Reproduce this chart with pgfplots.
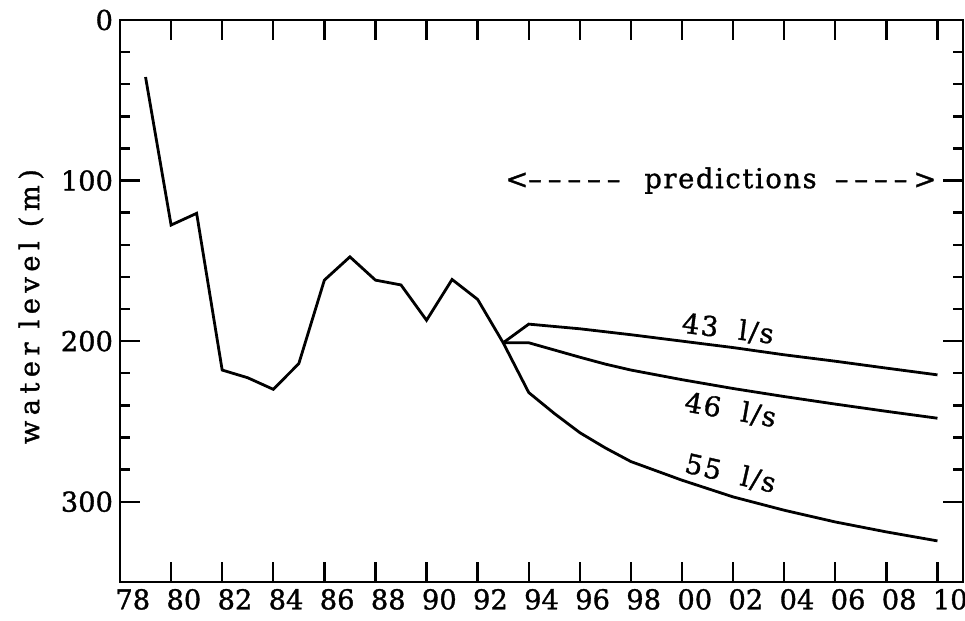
\documentclass[border=0pt]{standalone}
\usepackage{fontspec}
\setmainfont[FakeBold=1.2]{DejaVu Serif}
\newfontfamily\lbl[LetterSpace=20,FakeBold=1.2]{DejaVu Serif}
\newfontfamily\pre[LetterSpace=6,FakeBold=1.2]{DejaVu Serif}
\usepackage{pgfplots}
\pgfplotsset{compat=1.18}

\newcommand{\fs}{\fontsize{13.7}{16}\selectfont}
\newcommand{\dd}{–\hspace{3bp}}

\begin{document}
\begin{tikzpicture}
\path[use as bounding box] (-60bp,-19.5bp) rectangle (422.5bp,291bp);
\begin{axis}[
    scale only axis, width=421.5bp, height=281bp,
    xmin=1978, xmax=2011, ymin=0, ymax=350, y dir=reverse,
    xtick={1978,1980,...,2010},
    xticklabels={78,80,82,84,86,88,90,92,94,96,98,00,02,04,06,08,10},
    minor x tick num=1,
    ytick={0,100,200,300}, minor y tick num=4,
    tick align=inside,
    major tick length=10bp, minor tick length=5bp,
    every tick/.style={black, line width=1.2bp},
    axis line style={line width=1.4bp},
    tick label style={font=\fs},
    /pgf/number format/assume math mode=true,
    xticklabel pos=lower,
    xticklabel style={xshift=6.4bp},
    every axis y label/.style={at={(axis description cs:-0.1056,0.49)}, rotate=90, anchor=center},
    ylabel={\lbl\fs water level (m)},
]
% measured water level, one point per year
\addplot[black, line width=1.4bp] coordinates {
 (1979,35.5) (1980,127.7) (1981,120.4) (1982,218) (1983,222.8) (1984,230)
 (1985,214) (1986,162) (1987,147.5) (1988,162) (1989,165) (1990,187)
 (1991,161.6) (1992,174) (1993,201)};
% predictions: 43, 46 and 55 l/s
\addplot[black, line width=1.4bp] coordinates {
 (1993,201) (1994,189.4) (1996,192.3) (1998,196) (2000,200) (2002,204)
 (2004,208.5) (2006,212.5) (2008,216.8) (2010,221)};
\addplot[black, line width=1.4bp] coordinates {
 (1993,201) (1994,201) (1995,205.5) (1996,210) (1997,214.3) (1998,218)
 (2000,224) (2002,229.5) (2004,234.5) (2006,239.2) (2008,243.7) (2010,248)};
\addplot[black, line width=1.4bp] coordinates {
 (1993,201) (1994,232) (1995,245) (1996,257) (1997,266.5) (1998,275)
 (2000,286.6) (2002,297) (2004,305.3) (2006,312.6) (2008,318.8) (2010,324.4)};

\node[anchor=west, inner sep=0pt, font=\fs] at (axis cs:1993.07,100) {<\dd\dd\dd\dd–};
\node[inner sep=0pt, font=\fs\pre] at (axis cs:2001.9,100) {predictions};
\node[anchor=east, inner sep=0pt, font=\fs] at (axis cs:2009.97,100) {–\hspace{3bp}\dd\dd\dd>};

\node[rotate=-7, inner sep=0pt, font=\fs\pre] at (axis cs:2001.8,192.5) {43\ \ l/s};
\node[rotate=-10, inner sep=0pt, font=\fs\pre] at (axis cs:2001.9,243) {46\ \ l/s};
\node[rotate=-13, inner sep=0pt, font=\fs\pre] at (axis cs:2001.9,282.5) {55\ \ l/s};
\end{axis}
\end{tikzpicture}
\end{document}
